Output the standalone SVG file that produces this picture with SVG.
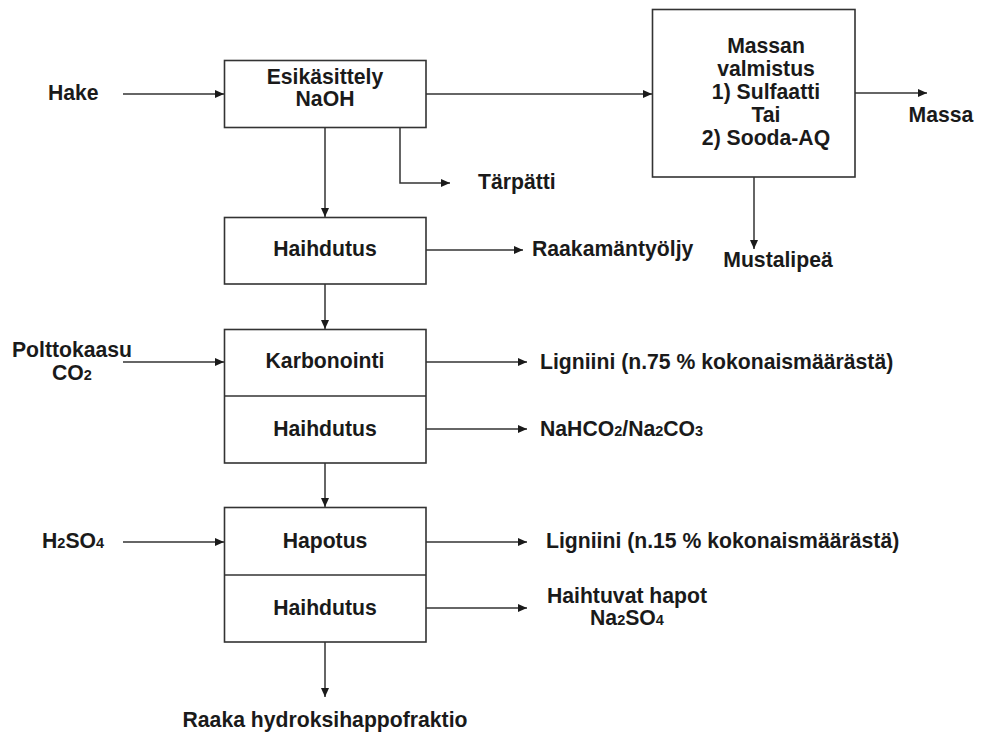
<svg xmlns="http://www.w3.org/2000/svg" width="982" height="733" viewBox="0 0 982 733">
<defs>
<marker id="ah" markerUnits="userSpaceOnUse" markerWidth="10" markerHeight="8" refX="9" refY="4" orient="auto">
<path d="M0,0 L9,4 L0,8 Z" fill="#1a1a1a"/>
</marker>
<style>
.box{fill:#fff;stroke:#333;stroke-width:1.6}
.ln{fill:none;stroke:#333;stroke-width:1.6}
.c{fill:none;stroke:#333;stroke-width:1.5;marker-end:url(#ah)}
text{font-family:"Liberation Sans",Arial,sans-serif;font-weight:bold;font-size:21.2px;fill:#1a1a1a}
.m{text-anchor:middle}
.sub{font-size:14.5px}
</style>
</defs>
<rect width="982" height="733" fill="#fff"/>
<g id="connectors">
<path class="c" d="M123,94 H224"/>
<path class="c" d="M325,127.5 V217"/>
<path class="c" d="M400,127.5 V183 H450"/>
<path class="c" d="M426,94 H652"/>
<path class="c" d="M855,93 H927"/>
<path class="c" d="M754,177 V249"/>
<path class="c" d="M426,250 H523"/>
<path class="c" d="M325,284 V329"/>
<path class="c" d="M123,362 H224"/>
<path class="c" d="M426,362 H527"/>
<path class="c" d="M426,429 H527"/>
<path class="c" d="M325,463 V507"/>
<path class="c" d="M123,542 H224"/>
<path class="c" d="M426,542 H527"/>
<path class="c" d="M426,608 H527"/>
<path class="c" d="M325,642 V697"/>
</g>
<g id="esikasittely">
<rect class="box" x="224.5" y="60.5" width="201.5" height="67"/>
<text class="m" x="325" y="84">Esikäsittely</text>
<text class="m" x="325" y="106">NaOH</text>
</g>
<g id="massan-valmistus">
<rect class="box" x="652.5" y="9.5" width="202.5" height="167.5"/>
<text class="m" x="766" y="53">Massan</text>
<text class="m" x="766" y="76">valmistus</text>
<text class="m" x="766" y="99">1) Sulfaatti</text>
<text class="m" x="766" y="122">Tai</text>
<text class="m" x="766" y="145">2) Sooda-AQ</text>
</g>
<g id="haihdutus1">
<rect class="box" x="224.5" y="217.5" width="201.5" height="66.5"/>
<text class="m" x="325" y="256">Haihdutus</text>
</g>
<g id="karbonointi">
<rect class="box" x="224.5" y="329.5" width="201.5" height="133.5"/>
<path class="ln" d="M224.5,396 H426"/>
<text class="m" x="325" y="368">Karbonointi</text>
<text class="m" x="325" y="436">Haihdutus</text>
</g>
<g id="hapotus">
<rect class="box" x="224.5" y="507.5" width="201.5" height="134.5"/>
<path class="ln" d="M224.5,575 H426"/>
<text class="m" x="325" y="548">Hapotus</text>
<text class="m" x="325" y="615">Haihdutus</text>
</g>
<g id="labels">
<text x="48" y="100">Hake</text>
<text x="478" y="189">Tärpätti</text>
<text x="941" y="122" class="m">Massa</text>
<text x="532" y="256">Raakamäntyöljy</text>
<text x="778" y="267" class="m">Mustalipeä</text>
<text x="72" y="357" class="m">Polttokaasu</text>
<text x="72" y="380" class="m">CO<tspan class="sub">2</tspan></text>
<text x="540" y="369">Ligniini (n.75 % kokonaismäärästä)</text>
<text x="540" y="436">NaHCO<tspan class="sub">2</tspan>/Na<tspan class="sub">2</tspan>CO<tspan class="sub">3</tspan></text>
<text x="42" y="548">H<tspan class="sub">2</tspan>SO<tspan class="sub">4</tspan></text>
<text x="546" y="548">Ligniini (n.15 % kokonaismäärästä)</text>
<text x="627" y="603" class="m">Haihtuvat hapot</text>
<text x="627" y="625" class="m">Na<tspan class="sub">2</tspan>SO<tspan class="sub">4</tspan></text>
<text x="325" y="727" class="m">Raaka hydroksihappofraktio</text>
</g>
</svg>
